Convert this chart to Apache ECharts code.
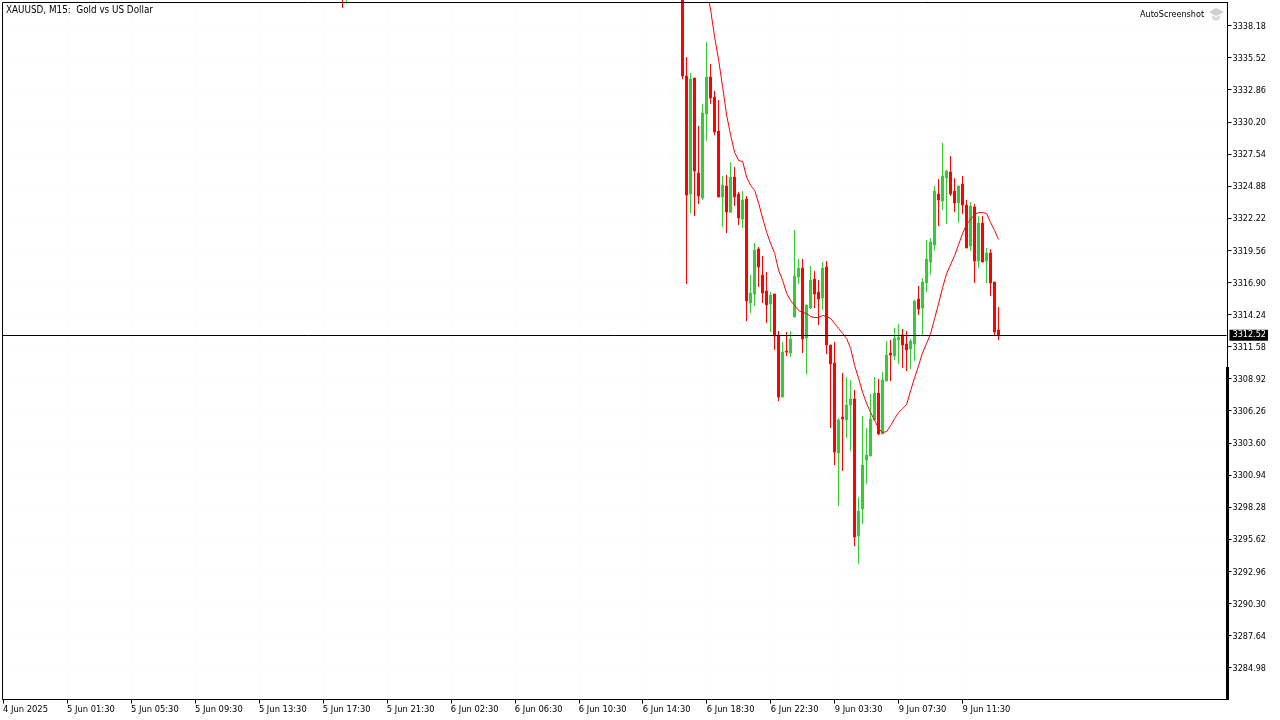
<!DOCTYPE html>
<html><head><meta charset="utf-8">
<style>html,body{margin:0;padding:0;background:#fff;overflow:hidden}#c{width:1280px;height:720px}</style>
<script src="https://cdn.jsdelivr.net/npm/echarts@6/dist/echarts.min.js"></script>
</head><body><div id="c"></div>
<script>
const barCount = 307;
const tickStep = 16;
const timeTickLabels = ['4 Jun 2025','5 Jun 01:30','5 Jun 05:30','5 Jun 09:30','5 Jun 13:30','5 Jun 17:30','5 Jun 21:30','6 Jun 02:30','6 Jun 06:30','6 Jun 10:30','6 Jun 14:30','6 Jun 18:30','6 Jun 22:30','9 Jun 03:30','9 Jun 07:30','9 Jun 11:30'];
const priceTicks = [3338.18,3335.52,3332.86,3330.20,3327.54,3324.88,3322.22,3319.56,3316.90,3314.24,3311.58,3308.92,3306.26,3303.60,3300.94,3298.28,3295.62,3292.96,3290.30,3287.64,3284.98];
const currentPrice = 3312.52;
const priceMin = 3282.328, priceMax = 3340.086;
const earlyStart = 85;
const earlyOpen  = [3345.0,3343.0];
const earlyClose = [3344.0,3344.0];
const earlyLow   = [3339.63,3339.96];
const earlyHigh  = [3346.0,3345.0];
const barsStart = 170;
const opens = [3342.8,3333.99,3324.21,3333.83,3325.95,3323.88,3330.84,3333.91,3332.25,3329.43,3323.97,3324.88,3322.72,3325.62,3324.21,3322.14,3323.80,3315.18,3315.93,3319.66,3317.50,3316.18,3315.10,3315.93,3312.53,3307.39,3311.20,3311.04,3314.02,3317.34,3318.08,3312.28,3314.77,3317.17,3316.09,3315.60,3318.17,3311.70,3310.21,3302.75,3305.73,3305.49,3306.73,3307.23,3295.87,3298.11,3302.17,3302.50,3305.49,3307.72,3304.33,3308.72,3311.04,3310.79,3312.12,3312.53,3311.78,3311.37,3311.78,3315.51,3314.77,3316.84,3318.58,3319.99,3324.21,3323.63,3325.54,3326.04,3324.46,3323.47,3325.04,3323.30,3319.90,3323.14,3318.66,3321.81,3318.66,3319.33,3316.92,3312.95];
const closes = [3333.99,3324.13,3333.74,3326.12,3324.05,3330.93,3333.91,3332.17,3329.35,3323.97,3324.96,3322.72,3325.62,3323.97,3322.23,3323.72,3315.35,3316.01,3319.57,3318.17,3316.01,3315.02,3315.85,3312.45,3307.39,3311.12,3311.12,3312.20,3317.42,3318.08,3312.20,3315.02,3317.09,3315.93,3315.51,3318.08,3311.70,3310.13,3302.83,3305.49,3305.57,3306.73,3307.23,3295.79,3297.94,3301.76,3302.59,3305.57,3307.72,3304.33,3308.80,3310.87,3310.87,3312.28,3312.36,3311.70,3311.29,3312.03,3315.35,3314.68,3316.92,3318.83,3320.24,3324.46,3323.72,3325.71,3326.12,3324.21,3323.47,3324.88,3323.30,3319.74,3323.22,3318.66,3321.81,3318.58,3319.33,3316.84,3312.78,3312.53];
const lows = [3333.74,3316.76,3322.64,3322.39,3323.38,3323.72,3328.61,3331.67,3329.10,3323.97,3321.48,3320.98,3322.64,3323.22,3321.65,3321.40,3313.69,3314.35,3314.93,3316.51,3315.18,3313.52,3312.78,3311.29,3307.06,3307.39,3310.79,3310.71,3314.02,3316.76,3311.04,3309.30,3314.68,3314.77,3313.36,3314.60,3310.96,3304.82,3301.76,3298.36,3301.26,3303.99,3302.92,3295.05,3293.55,3296.87,3300.18,3302.50,3305.49,3304.24,3304.33,3308.72,3308.72,3310.46,3310.13,3309.80,3309.55,3309.71,3310.38,3314.19,3312.45,3316.09,3317.50,3319.49,3321.56,3322.89,3321.73,3324.05,3322.72,3321.81,3322.56,3319.74,3319.49,3316.84,3318.08,3318.58,3316.84,3315.76,3312.45,3312.12];
const highs = [3343.6,3335.57,3334.24,3333.83,3329.85,3331.67,3336.81,3334.99,3332.75,3332.00,3325.71,3325.79,3326.87,3326.45,3324.38,3324.46,3324.05,3317.50,3320.15,3319.82,3319.08,3317.75,3316.09,3315.93,3312.86,3311.95,3312.78,3312.86,3321.23,3318.83,3318.83,3315.02,3318.25,3317.83,3317.09,3318.58,3318.66,3311.70,3311.95,3305.65,3309.38,3309.05,3308.80,3307.97,3299.11,3305.82,3304.82,3307.64,3309.05,3308.88,3309.46,3312.03,3312.12,3313.11,3313.44,3313.03,3312.86,3312.20,3315.43,3316.59,3317.25,3320.40,3320.57,3324.88,3325.46,3328.44,3326.20,3327.36,3325.54,3324.88,3325.71,3323.72,3323.55,3323.38,3322.39,3322.39,3319.74,3319.66,3316.92,3314.85];
const maStart = 176;
const maValues = [3341.24,3339.42,3337.18,3335.28,3333.04,3330.72,3329.06,3327.65,3326.99,3326.91,3325.58,3324.92,3324.51,3323.43,3322.19,3321.03,3320.11,3319.29,3317.88,3317.05,3315.97,3315.39,3314.98,3314.56,3314.40,3314.31,3314.06,3313.98,3313.98,3314.15,3314.06,3313.90,3313.48,3313.07,3312.66,3312.24,3311.41,3310.00,3308.93,3307.77,3306.85,3306.11,3305.45,3304.78,3304.45,3304.53,3305.03,3305.61,3306.11,3306.44,3306.77,3307.93,3309.01,3310.00,3311.08,3311.83,3312.66,3313.90,3315.14,3316.47,3317.63,3318.37,3319.12,3320.03,3320.94,3321.69,3322.10,3322.52,3322.68,3322.68,3322.60,3321.85,3321.19,3320.45];
const categories = [], candles = [], ma = [];
for (let i = 0; i < barCount; i++) {
  categories.push(i % tickStep === 0 && timeTickLabels[i / tickStep] ? timeTickLabels[i / tickStep] : '');
  let row = ['-','-','-','-'];
  if (i >= earlyStart && i < earlyStart + earlyOpen.length) {
    const k = i - earlyStart; row = [earlyOpen[k],earlyClose[k],earlyLow[k],earlyHigh[k]];
  } else if (i >= barsStart && i < barsStart + opens.length) {
    const k = i - barsStart; row = [opens[k],closes[k],lows[k],highs[k]];
  }
  candles.push(row);
  ma.push(i >= maStart && i < maStart + maValues.length ? maValues[i - maStart] : null);
}
const FONT = '"DejaVu Sans Condensed", Tahoma, sans-serif';
const showTick = (i) => categories[i] !== '';
const chart = echarts.init(document.getElementById('c'), null, {renderer:'canvas', width:1280, height:720});
chart.setOption({
  animation:false,
  backgroundColor:'#ffffff',
  textStyle:{fontFamily:FONT},
  grid:{left:2.5, top:2.5, width:1224, height:697},
  xAxis:{
    type:'category', data:categories, boundaryGap:false,
    axisLine:{show:true, lineStyle:{color:'#000', width:1}},
    axisTick:{show:true, length:4, alignWithLabel:true, interval:(i)=>showTick(i), lineStyle:{color:'#000', width:1}},
    axisLabel:{show:true, interval:(i)=>showTick(i), align:'left', margin:6, color:'#000', fontSize:9.3, fontFamily:FONT, hideOverlap:false},
    splitLine:{show:true, interval:(i)=>showTick(i), lineStyle:{color:'#f9f9f9', type:'dotted', width:1}}
  },
  yAxis:{
    type:'value', position:'right', offset:1, min:priceMin, max:priceMax, scale:true,
    axisLine:{show:true, lineStyle:{color:'#000', width:1}},
    axisTick:{show:true, length:4, customValues:priceTicks, lineStyle:{color:'#000', width:1}},
    axisLabel:{show:true, customValues:priceTicks, margin:5, color:'#000', fontSize:9, fontFamily:FONT,
      formatter:(v)=>'{p|'+Number(v).toFixed(2)+'}', rich:{p:{padding:[2,0,0,0], fontSize:9, fontFamily:FONT, color:'#000'}},
      showMinLabel:true, showMaxLabel:true},
    splitLine:{show:true, lineStyle:{color:'#f9f9f9', type:'dotted', width:1}}
  },
  series:[
    {type:'candlestick', name:'XAUUSD', data:candles, barWidth:3, clip:true, z:3,
     itemStyle:{color:'#32CD32', color0:'#FF0000', borderColor:'#32CD32', borderColor0:'#FF0000', borderWidth:1},
     markLine:{silent:true, symbol:['none','none'], animation:false, z:5,
       lineStyle:{color:'#000', type:'solid', width:1},
       label:{show:true, position:'end', distance:3, formatter:()=>currentPrice.toFixed(2), color:'#fff', backgroundColor:'#000', fontSize:9, fontFamily:FONT, padding:[1,2,1,3]},
       data:[{yAxis:currentPrice}]}
    },
    {type:'line', name:'MA', data:ma, showSymbol:false, symbol:'none', clip:true, smooth:false, connectNulls:false, z:4,
     lineStyle:{color:'#FF0000', width:1}, itemStyle:{color:'#FF0000'}}
  ],
  title:{show:true, text:'XAUUSD, M15:  Gold vs US Dollar', left:6, top:5, padding:0, textStyle:{color:'#000', fontSize:9.8, fontWeight:'normal', fontFamily:FONT}},
  graphic:[
    {type:'rect', silent:true, z:10, shape:{x:2.5,y:2.5,width:1225,height:697}, style:{fill:'none', stroke:'#000', lineWidth:1}},
    {type:'rect', silent:true, z:11, shape:{x:1226,y:367,width:3,height:333}, style:{fill:'#000'}},
    {type:'text', silent:true, z:12, x:1140, y:10, style:{text:'AutoScreenshot', fill:'#000', fontSize:9, fontFamily:FONT}},
    {type:'polygon', silent:true, z:12, shape:{points:[[1209,12],[1216,8],[1224,12],[1216,16]]}, style:{fill:'#cfcfcf'}},
    {type:'polygon', silent:true, z:12, shape:{points:[[1212,15],[1216,17],[1220,15],[1220,19],[1216,21],[1212,19]]}, style:{fill:'#dcdcdc'}}
  ]
});
</script></body></html>
